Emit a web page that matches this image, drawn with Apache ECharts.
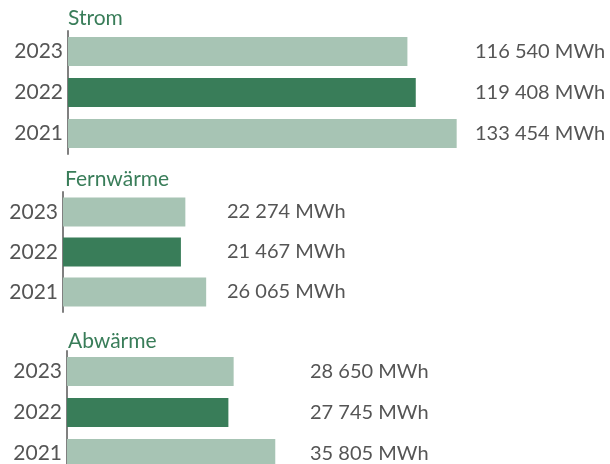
<!DOCTYPE html>
<html>
<head>
<meta charset="utf-8">
<script src="https://cdn.jsdelivr.net/npm/echarts@6/dist/echarts.min.js"></script>
<style>
  html, body { margin: 0; padding: 0; background: #fff; }
  #main { width: 610px; height: 464px; }
</style>
</head>
<body>
<div id="main"></div>
<script>
var years = ['2023', '2022', '2021'];
var strom = [116540, 119408, 133454];
var fernwaerme = [22274, 21467, 26065];
var abwaerme = [28650, 27745, 35805];
var titles = ['Strom', 'Fernwärme', 'Abwärme'];

var hell = '#a7c4b4';
var dunkel = '#397d59';
var textFarbe = '#555555';
var font = 'Lato';

function fmt(v) {
    return String(v).replace(/\B(?=(\d{3})+(?!\d))/g, ' ') + ' MWh';
}

// layout of the three blocks
var grids = [
    { left: 68, top: 31, width: 399, height: 123, outerBoundsMode: 'none' },
    { left: 63, top: 192, width: 156, height: 120, outerBoundsMode: 'none' },
    { left: 67, top: 351, width: 235, height: 123, outerBoundsMode: 'none' }
];
var maxWerte = [137000, 28400, 40400];
var werte = [strom, fernwaerme, abwaerme];
var titelPos = [[68, 8], [65, 169], [68, 331]];

var option = {
    animation: false,
    backgroundColor: '#fff',
    title: [],
    grid: [],
    xAxis: [],
    yAxis: [],
    series: []
};

werte.forEach(function (daten, i) {
    option.title.push({
        text: titles[i],
        left: titelPos[i][0],
        top: titelPos[i][1],
        padding: 0,
        textStyle: { color: dunkel, fontFamily: font, fontSize: 21, fontWeight: 'normal' }
    });
    option.grid.push(grids[i]);
    option.xAxis.push({
        type: 'value',
        gridIndex: i,
        min: 0,
        max: maxWerte[i],
        show: false
    });
    option.yAxis.push({
        type: 'category',
        gridIndex: i,
        data: years,
        inverse: true,
        axisLine: { show: true, lineStyle: { color: '#808080', width: 2 } },
        axisTick: { show: false },
        axisLabel: { color: textFarbe, fontFamily: font, fontSize: 21, margin: 5 }
    });
    option.yAxis.push({
        type: 'category',
        gridIndex: i,
        position: 'right',
        data: years,
        inverse: true,
        axisLine: { show: false },
        axisTick: { show: false },
        axisLabel: {
            color: textFarbe, fontFamily: font, fontSize: 20, margin: 8,
            formatter: function (v, idx) { return fmt(daten[idx]); }
        }
    });
    option.series.push({
        type: 'bar',
        xAxisIndex: i,
        yAxisIndex: i * 2,
        barWidth: 29,
        data: daten.map(function (v, k) {
            return { value: v, itemStyle: { color: years[k] === '2022' ? dunkel : hell } };
        })
    });
});

var myChart = echarts.init(document.getElementById('main'));
myChart.setOption(option);
</script>
</body>
</html>
